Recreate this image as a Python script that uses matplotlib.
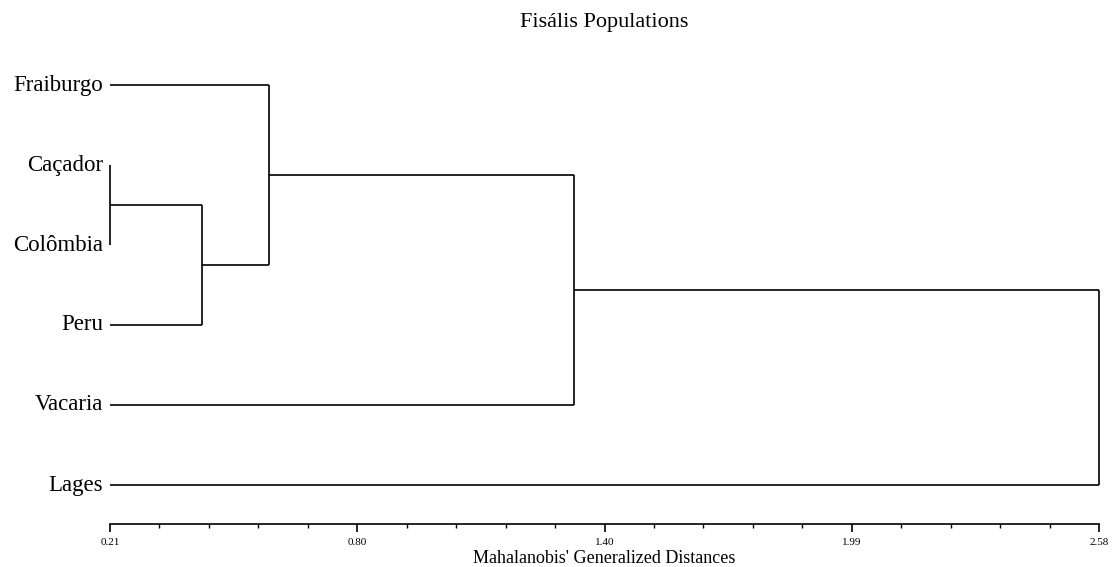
import matplotlib
matplotlib.use("Agg")
import matplotlib.pyplot as plt

# ---- data ----
labels = ["Fraiburgo", "Caçador", "Colômbia", "Peru", "Vacaria", "Lages"]
# linkage-style merges: (cluster a, cluster b, distance); new clusters numbered from len(labels)
merge_a = [1, 6, 0, 8, 9]
merge_b = [2, 3, 7, 4, 5]
merge_dist = [0.21, 0.43, 0.59, 1.323, 2.58]
axis_min, axis_max = 0.21, 2.58
major_tick_labels = ["0.21", "0.80", "1.40", "1.99", "2.58"]
n_minor = 20

plt.rcParams['font.family'] = ['Liberation Serif', 'DejaVu Serif']

W, H, DPI = 1114, 567, 100
fig = plt.figure(figsize=(W / DPI, H / DPI), dpi=DPI)

n = len(labels)
unit = 80.0
ymin = -39.0 / unit
top_px = 85 - 39
ymax = (n - 1) + 39.0 / unit
left_px, right_px, bottom_px = 110, 1099, 524
ax = fig.add_axes([left_px / W, (H - bottom_px) / H,
                   (right_px - left_px) / W, (bottom_px - top_px) / H])

# positions of leaves (top to bottom)
ypos = {i: (n - 1 - i) for i in range(n)}
xpos = {i: axis_min for i in range(n)}
lw = 1.2
for k, (a, b, d) in enumerate(zip(merge_a, merge_b, merge_dist)):
    ya, yb = ypos[a], ypos[b]
    xa, xb = xpos[a], xpos[b]
    ax.plot([xa, d], [ya, ya], color='black', lw=lw, solid_capstyle='butt', clip_on=False)
    ax.plot([xb, d], [yb, yb], color='black', lw=lw, solid_capstyle='butt', clip_on=False)
    ax.plot([d, d], [ya, yb], color='black', lw=lw, solid_capstyle='butt', clip_on=False)
    new = n + k
    ypos[new] = (ya + yb) / 2.0
    xpos[new] = d

for i, lab in enumerate(labels):
    ax.text(axis_min - 0.017, ypos[i], lab, ha='right', va='center', fontsize=16.5)

ax.set_xlim(axis_min, axis_max)
ax.set_ylim(ymin, ymax)
for s in ['left', 'right', 'top']:
    ax.spines[s].set_visible(False)
ax.spines['bottom'].set_linewidth(1.2)
ax.set_yticks([])

step = (axis_max - axis_min) / n_minor
minor = [axis_min + step * i for i in range(n_minor + 1)]
major = [axis_min + step * 5 * i for i in range(len(major_tick_labels))]
ax.set_xticks(major)
ax.set_xticklabels(major_tick_labels, fontsize=8)
ax.set_xticks(minor, minor=True)
ax.tick_params(axis='x', which='major', length=6, width=1.2, pad=4, direction='out')
ax.tick_params(axis='x', which='minor', length=3, width=1.0, direction='out')

ax.set_xlabel("Mahalanobis' Generalized Distances", fontsize=13, labelpad=2)
fig.text((left_px + right_px) / 2 / W, 1 - 23 / H, "Fisális Populations",
         ha='center', va='center', fontsize=16)

fig.savefig("out.png", dpi=DPI, facecolor='white')
